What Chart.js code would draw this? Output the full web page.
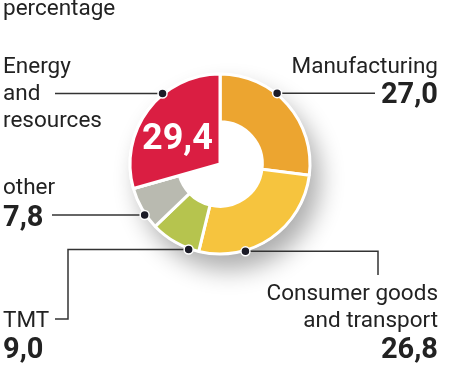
<!DOCTYPE html>
<html><head><meta charset="utf-8">
<script src="https://cdn.jsdelivr.net/npm/chart.js@4/dist/chart.umd.min.js"></script>
<style>
html,body{margin:0;padding:0;background:#fff;width:449px;height:378px;overflow:hidden}
#wrap{position:relative;width:449px;height:378px}
canvas{position:absolute;left:0;top:0}
.t{position:absolute;font-family:Roboto,"Noto Sans",sans-serif;color:#222;white-space:nowrap;line-height:1}
.r{font-size:22.5px}
.b{font-size:29px;font-weight:700}
.big{font-size:36px;font-weight:700;color:#fff}
</style></head>
<body>
<div id="wrap">
<canvas id="ring" width="449" height="378"></canvas>
<canvas id="wedge" width="449" height="378"></canvas>
</div>
<script>
// ---- data ----
const categories = ['Manufacturing', 'Consumer goods and transport', 'TMT', 'other', 'Energy and resources'];
const values = [27.0, 26.8, 9.0, 7.8, 29.4];
const labelLines = [['Manufacturing'], ['Consumer goods', 'and transport'], ['TMT'], ['other'], ['Energy', 'and', 'resources']];
const unitLabel = 'percentage';

// ---- style ----
const colors = ['#eca530', '#f6c43e', '#b6c44e', '#b9bab0', '#da1e42'];
const fullWedge = 4; // index of the slice drawn as a full wedge
const fmt = v => v.toFixed(1).replace('.', ',');

const wrap = document.getElementById('wrap');
function addText(txt, cls, pos) {
  const d = document.createElement('div');
  d.className = 't ' + cls;
  d.textContent = txt;
  Object.keys(pos).forEach(k => d.style[k] = pos[k] + 'px');
  wrap.appendChild(d);
}
// layout of label blocks: side, first text line baseline, value baseline
const layout = [
  {side: 'right', base: 73, valBase: 103},
  {side: 'right', base: 300, valBase: 358},
  {side: 'left', base: 327, valBase: 358},
  {side: 'left', base: 194, valBase: 226},
  {side: 'left', base: 73, valBase: null}
];
const lineGap = 27;
const RB = 0.842; // baseline offset (em) of line-height:1 box
const RS = 22.5, BS = 29;
addText(unitLabel, 'r', {left: 3, top: 15 - RS * RB});
categories.forEach((c, i) => {
  const L = layout[i];
  const hpos = L.side === 'left' ? {left: 3} : {right: 11};
  labelLines[i].forEach((ln, j) => {
    addText(ln, 'r', Object.assign({top: L.base + j * lineGap - RS * RB}, hpos));
  });
  if (L.valBase !== null) {
    addText(fmt(values[i]), 'b', Object.assign({top: L.valBase - BS * RB}, hpos));
  }
});
// big value inside the wedge
addText(fmt(values[fullWedge]), 'big', {left: 142, top: 149 - 36 * RB});

const common = {
  responsive: false,
  animation: false,
  events: [],
  radius: 90,
  layout: {padding: {left: 0, right: 9, top: 0, bottom: 50}},
  plugins: {legend: {display: false}, tooltip: {enabled: false}}
};

const shadowPlugin = {
  id: 'shadow',
  beforeDatasetsDraw(chart) {
    const a = chart.getDatasetMeta(0).data[0];
    const {x, y, outerRadius} = a.getProps(['x', 'y', 'outerRadius'], true);
    const ctx = chart.ctx;
    ctx.save();
    ctx.shadowColor = 'rgba(0,0,0,0.32)';
    ctx.shadowBlur = 24;
    ctx.shadowOffsetX = 9;
    ctx.shadowOffsetY = 15;
    ctx.beginPath();
    ctx.arc(x, y, outerRadius + 1, 0, Math.PI * 2);
    ctx.fillStyle = '#fff';
    ctx.fill();
    ctx.restore();
  }
};

new Chart(document.getElementById('ring'), {
  type: 'doughnut',
  data: {labels: categories, datasets: [{data: values, backgroundColor: colors, borderColor: '#fff', borderWidth: 3}]},
  options: Object.assign({cutout: '47%'}, common),
  plugins: [shadowPlugin]
});

// leader lines: fraction along each slice where the dot sits, then path targets
const dotFrac = [0.40, 0.69, 0.20, 0.35, 0.63];
const leaderPaths = [
  [['x', 375]],
  [['x', 378], ['y', 275]],
  [['x', 68], ['y', 319], ['x', 55]],
  [['x', 52]],
  [['x', 55]]
];
const leaderPlugin = {
  id: 'leaders',
  afterDatasetsDraw(chart) {
    const ctx = chart.ctx;
    const arcs = chart.getDatasetMeta(0).data;
    ctx.save();
    arcs.forEach((arc, i) => {
      const p = arc.getProps(['x', 'y', 'startAngle', 'endAngle', 'outerRadius'], true);
      const ang = p.startAngle + dotFrac[i] * (p.endAngle - p.startAngle);
      const r = p.outerRadius + 1;
      let cx = p.x + r * Math.cos(ang), cy = p.y + r * Math.sin(ang);
      ctx.beginPath();
      ctx.moveTo(cx, cy);
      leaderPaths[i].forEach(([ax, v]) => {
        if (ax === 'x') cx = v; else cy = v;
        ctx.lineTo(cx, cy);
      });
      ctx.strokeStyle = '#333';
      ctx.lineWidth = 1.5;
      ctx.stroke();
    });
    arcs.forEach((arc, i) => {
      const p = arc.getProps(['x', 'y', 'startAngle', 'endAngle', 'outerRadius'], true);
      const ang = p.startAngle + dotFrac[i] * (p.endAngle - p.startAngle);
      const r = p.outerRadius + 1;
      ctx.beginPath();
      ctx.arc(p.x + r * Math.cos(ang), p.y + r * Math.sin(ang), 4.5, 0, Math.PI * 2);
      ctx.fillStyle = '#1c1c28';
      ctx.strokeStyle = '#fff';
      ctx.lineWidth = 1.5;
      ctx.fill();
      ctx.stroke();
    });
    ctx.restore();
  }
};

new Chart(document.getElementById('wedge'), {
  type: 'pie',
  data: {labels: categories, datasets: [{
    data: values,
    backgroundColor: colors.map((c, i) => i === fullWedge ? c : 'rgba(0,0,0,0)'),
    borderColor: colors.map((c, i) => i === fullWedge ? '#fff' : 'rgba(0,0,0,0)'),
    borderWidth: colors.map((c, i) => i === fullWedge ? 3 : 0)
  }]},
  options: Object.assign({cutout: 0}, common),
  plugins: [leaderPlugin]
});
</script>
</body></html>
